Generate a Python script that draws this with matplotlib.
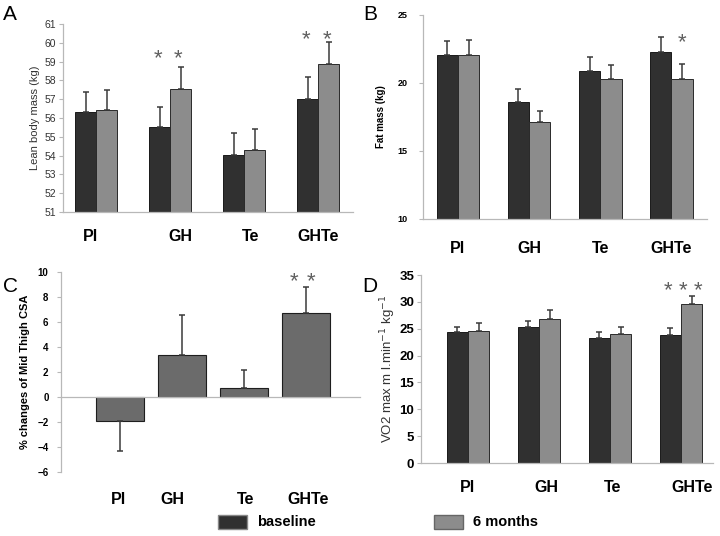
import numpy as np
import matplotlib
matplotlib.use("Agg")
import matplotlib.pyplot as plt
import matplotlib.patches as mpatches
import matplotlib.transforms as mtransforms

groups = ["Pl", "GH", "Te", "GHTe"]

# A: lean body mass (kg)
lbm_base = [56.3, 55.5, 54.05, 57.0]
lbm_6m = [56.4, 57.55, 54.3, 58.85]
lbm_base_err = [1.1, 1.1, 1.15, 1.2]
lbm_6m_err = [1.1, 1.15, 1.1, 1.2]

# B: fat mass (kg)
fat_base = [22.05, 18.6, 20.9, 22.25]
fat_6m = [22.05, 17.12, 20.3, 20.33]
fat_base_err = [1.05, 0.95, 1.0, 1.1]
fat_6m_err = [1.1, 0.85, 1.05, 1.05]

# C: % change of mid thigh CSA
csa_change = [-1.95, 3.4, 0.75, 6.7]
csa_err = [2.35, 3.2, 1.45, 2.1]

# D: VO2 max
vo2_base = [24.3, 25.4, 23.3, 23.9]
vo2_6m = [24.6, 26.9, 24.1, 29.6]
vo2_base_err = [1.1, 1.0, 1.1, 1.2]
vo2_6m_err = [1.4, 1.5, 1.3, 1.5]

DARK = "#303030"
LIGHT = "#8c8c8c"
MID = "#6b6b6b"
AX_GRAY = "#b8b8b8"

plt.rcParams["font.family"] = ["Liberation Sans", "DejaVu Sans"]

fig = plt.figure(figsize=(7.2, 5.36), dpi=100)


def px_axes(left, right, top, bottom):
    return fig.add_axes([left / 720, 1 - bottom / 536, (right - left) / 720, (bottom - top) / 536])


def style(ax):
    for s in ["top", "right"]:
        ax.spines[s].set_visible(False)
    for s in ["left", "bottom"]:
        ax.spines[s].set_color(AX_GRAY)
        ax.spines[s].set_linewidth(0.9)
    ax.tick_params(axis="y", color=AX_GRAY, length=3, width=0.8, pad=2)
    ax.tick_params(axis="x", length=0)


def paired(ax, base, six, berr, serr, width):
    x = np.arange(len(groups))
    ek = dict(ecolor="#3a3a3a", elinewidth=1.1, capsize=2.5, capthick=1.1)
    ax.bar(x - width / 2, base, width, color=DARK, edgecolor="#1a1a1a", linewidth=0.7,
           yerr=[[0] * 4, berr], error_kw=ek, zorder=2)
    ax.bar(x + width / 2, six, width, color=LIGHT, edgecolor="#2a2a2a", linewidth=0.7,
           yerr=[[0] * 4, serr], error_kw=ek, zorder=2)
    return x


def star(ax, x, y, size=16):
    # put the visual centre of the asterisk glyph at y
    tr = mtransforms.offset_copy(ax.transData, fig=fig, x=0, y=-0.58 * size, units="points")
    ax.text(x, y, "*", ha="center", va="baseline", fontsize=size, color="#606060",
            transform=tr)


xlab_font = dict(fontsize=11.5, fontweight="bold")

# ---- A
axA = px_axes(63, 353, 24, 212)
style(axA)
w = 0.285
paired(axA, lbm_base, lbm_6m, lbm_base_err, lbm_6m_err, w)
axA.set_ylim(51, 61)
axA.set_yticks(range(51, 62))
axA.set_xlim(-0.45, 3.47)
axA.set_xticks([-0.08, 1.14, 2.08, 3.0])
axA.set_xticklabels(groups, **xlab_font)
axA.tick_params(axis="x", pad=12)
axA.tick_params(axis="y", labelsize=7.5, labelcolor="#333333")
axA.set_ylabel("Lean body mass (kg)", fontsize=8, color="#333333", labelpad=3)
star(axA, 1 - w / 2 - 0.02, 59.55)
star(axA, 1 + w / 2 - 0.04, 59.55)
star(axA, 3 - w / 2 - 0.02, 60.55)
star(axA, 3 + w / 2 - 0.02, 60.55)

# ---- B
axB = px_axes(423, 707, 15, 219)
style(axB)
w = 0.3
paired(axB, fat_base, fat_6m, fat_base_err, fat_6m_err, w)
axB.set_ylim(10, 25)
axB.set_yticks([10, 15, 20, 25])
axB.set_xlim(-0.49, 3.5)
axB.set_xticks(np.arange(4))
axB.set_xticklabels(groups, **xlab_font)
axB.tick_params(axis="x", pad=16)
axB.tick_params(axis="y", labelsize=6.5, pad=8)
for t in axB.get_yticklabels():
    t.set_fontweight("bold")
axB.set_ylabel("Fat mass (kg)", fontsize=7, fontweight="bold", labelpad=8)
star(axB, 3 + w / 2, 23.5)

# ---- C
axC = px_axes(61, 360, 272, 472)
style(axC)
xc = np.arange(4)
lower = [e if v < 0 else 0 for v, e in zip(csa_change, csa_err)]
upper = [e if v >= 0 else 0 for v, e in zip(csa_change, csa_err)]
axC.bar(xc, csa_change, 0.77, color=MID, edgecolor="#1e1e1e", linewidth=0.8,
        yerr=[lower, upper], error_kw=dict(ecolor="#3a3a3a", elinewidth=1.1, capsize=2.5, capthick=1.1), zorder=2)
axC.set_ylim(-6, 10)
axC.set_yticks(range(-6, 11, 2))
axC.set_xlim(-0.95, 3.87)
axC.spines["bottom"].set_position(("data", 0))
axC.set_xticks([])
for xi, lab in zip([-0.03, 0.84, 2.02, 3.03], groups):
    axC.text(xi, -8.2, lab, ha="center", va="center", **xlab_font)
axC.tick_params(axis="y", labelsize=7, pad=6)
for t in axC.get_yticklabels():
    t.set_fontweight("bold")
axC.set_ylabel("% changes of Mid Thigh CSA", fontsize=8, fontweight="bold", labelpad=5)
star(axC, 2.8, 9.85)
star(axC, 3.08, 9.85)

# ---- D
axD = px_axes(421, 713, 275, 463)
style(axD)
w = 0.3
paired(axD, vo2_base, vo2_6m, vo2_base_err, vo2_6m_err, w)
axD.set_ylim(0, 35)
axD.set_yticks(range(0, 36, 5))
axD.set_xlim(-0.66, 3.45)
axD.set_xticks([0, 1.11, 2.03, 3.15])
axD.set_xticklabels(groups, **xlab_font)
axD.tick_params(axis="x", pad=12)
axD.tick_params(axis="y", labelsize=9.5, pad=2)
for t in axD.get_yticklabels():
    t.set_fontweight("bold")
axD.set_ylabel("VO2 max m l.min$^{-1}$ kg$^{-1}$", fontsize=9.5, color="#333333", labelpad=1)
star(axD, 2.82, 33.5)
star(axD, 3.03, 33.5)
star(axD, 3.24, 33.5)

# panel letters
for lab, (px, py) in zip("ABCD", [(3, 14), (363, 14), (3, 286), (362, 286)]):
    fig.text(px / 720, 1 - py / 536, lab, fontsize=15, va="center", ha="left")

# legend
h1 = mpatches.Patch(facecolor=DARK, edgecolor="#888888")
h2 = mpatches.Patch(facecolor=LIGHT, edgecolor="#666666")
for h, lab, x0 in [(h1, "baseline", 218), (h2, "6 months", 434)]:
    fig.legend([h], [lab], loc="center left", bbox_to_anchor=(x0 / 720, 1 - 522 / 536),
               frameon=False, borderpad=0, borderaxespad=0, handlelength=2.0,
               handleheight=1.1, handletextpad=0.7, prop=dict(size=10.5, weight="bold"))

fig.savefig("out.png", dpi=100)
